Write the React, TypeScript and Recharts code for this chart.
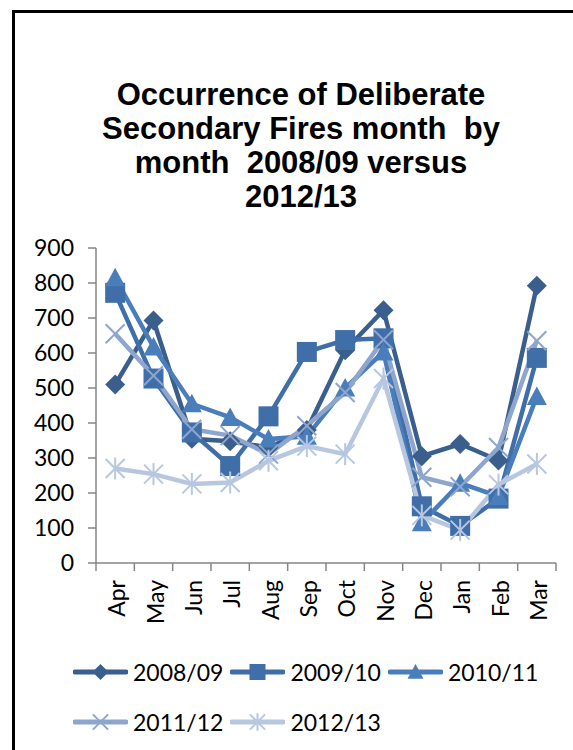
import { LineChart, Line, XAxis, YAxis } from 'recharts'

const MONTHS = ['Apr', 'May', 'Jun', 'Jul', 'Aug', 'Sep', 'Oct', 'Nov', 'Dec', 'Jan', 'Feb', 'Mar']
const Y_TICKS = [0, 100, 200, 300, 400, 500, 600, 700, 800, 900]

const FY_2008_09 = [510, 693, 355, 348, 330, 380, 608, 722, 305, 340, 293, 792]
const FY_2009_10 = [772, 527, 373, 277, 419, 603, 637, 642, 162, 106, 184, 586]
const FY_2010_11 = [815, 617, 455, 416, 354, 362, 500, 603, 115, 228, 190, 476]
const FY_2011_12 = [655, 535, 382, 364, 311, 392, 487, 638, 245, 218, 330, 635]
const FY_2012_13 = [270, 254, 226, 230, 292, 334, 311, 527, 136, 94, 224, 283]

const SERIES = [
  { key: 'fy0809', name: '2008/09', values: FY_2008_09, color: '#3A5F8D', shape: 'diamond' },
  { key: 'fy0910', name: '2009/10', values: FY_2009_10, color: '#406EA8', shape: 'square' },
  { key: 'fy1011', name: '2010/11', values: FY_2010_11, color: '#4A7EBB', shape: 'triangle' },
  { key: 'fy1112', name: '2011/12', values: FY_2011_12, color: '#8EA6CE', shape: 'x' },
  { key: 'fy1213', name: '2012/13', values: FY_2012_13, color: '#B8C7E0', shape: 'star' },
]

const rows = MONTHS.map((month, i) => {
  const row: Record<string, number | string> = { month, x: i + 0.5 }
  SERIES.forEach((s) => { row[s.key] = s.values[i] })
  return row
})

// ticks at category edges (tick marks) and centres (labels)
const X_TICKS = MONTHS.flatMap((_, i) => [i, i + 0.5]).concat([MONTHS.length])

const FONT = 'Lato, "Open Sans", sans-serif'
const AXIS_GREY = '#868686'

function Marker({ shape, cx, cy, s, color }: { shape: string; cx: number; cy: number; s: number; color: string }) {
  if (shape === 'diamond') {
    return <polygon points={`${cx},${cy - s} ${cx + s},${cy} ${cx},${cy + s} ${cx - s},${cy}`} fill={color} />
  }
  if (shape === 'square') {
    return <rect x={cx - s} y={cy - s} width={s * 2} height={s * 2} fill={color} />
  }
  if (shape === 'triangle') {
    return <polygon points={`${cx},${cy - s} ${cx + s},${cy + s * 0.85} ${cx - s},${cy + s * 0.85}`} fill={color} />
  }
  const d = s * 0.95
  return (
    <g stroke={color} strokeWidth={2}>
      <line x1={cx - d} y1={cy - d} x2={cx + d} y2={cy + d} />
      <line x1={cx - d} y1={cy + d} x2={cx + d} y2={cy - d} />
      {shape === 'star' && <line x1={cx} y1={cy - s * 1.1} x2={cx} y2={cy + s * 1.1} />}
    </g>
  )
}

function MonthTick({ x, y, payload }: { x: number; y: number; payload: { value: number } }) {
  const v = payload.value
  if (Number.isInteger(v)) {
    return <line x1={x} y1={y - 17} x2={x} y2={y - 9} stroke={AXIS_GREY} strokeWidth={1.5} />
  }
  const bx = x + 10
  return (
    <text
      x={bx}
      y={y}
      transform={`rotate(-90 ${bx} ${y})`}
      textAnchor="end"
      fontFamily={FONT}
      fontSize={23}
      fill="#000"
    >
      {MONTHS[Math.floor(v)]}
    </text>
  )
}

function LegendBox() {
  return (
    <div
      style={{
        position: 'absolute',
        left: 73,
        top: 647,
        width: 480,
        display: 'flex',
        flexWrap: 'wrap',
        fontFamily: FONT,
        fontSize: 23,
        color: '#000',
      }}
    >
      {SERIES.map((s) => (
        <div key={s.key} style={{ display: 'flex', alignItems: 'center', height: 50, marginRight: 7 }}>
          <svg width={55} height={24} style={{ marginRight: 5 }}>
            <line x1={2} y1={12} x2={53} y2={12} stroke={s.color} strokeWidth={5} strokeLinecap="round" />
            <Marker shape={s.shape} cx={27.5} cy={12} s={8} color={s.color} />
          </svg>
          <span>{s.name}</span>
        </div>
      ))}
    </div>
  )
}

export default function App() {
  return (
    <div style={{ position: 'absolute', left: 0, top: 0, width: 573, height: 750, background: '#fff', overflow: 'hidden' }}>
      <div
        style={{
          position: 'absolute',
          left: 12,
          top: 10,
          width: 700,
          height: 900,
          borderTop: '3px solid #000',
          borderLeft: '3px solid #000',
        }}
      />
      <div
        style={{
          position: 'absolute',
          left: 0,
          top: 78,
          width: 602,
          textAlign: 'center',
          fontFamily: '"Liberation Sans", Arial, sans-serif',
          fontWeight: 'bold',
          fontSize: 31,
          lineHeight: '34px',
          color: '#000',
        }}
      >
        Occurrence of Deliberate
        <br />
        Secondary Fires month&nbsp; by
        <br />
        month&nbsp; 2008/09 versus
        <br />
        2012/13
      </div>
      <div style={{ position: 'absolute', left: 0, top: 0 }}>
        <LineChart width={573} height={750} data={rows} margin={{ top: 248, right: 17, left: 36, bottom: 117 }}>
          <XAxis
            dataKey="x"
            type="number"
            domain={[0, MONTHS.length]}
            ticks={X_TICKS}
            interval={0}
            height={70}
            tickSize={8}
            tickMargin={9}
            tickLine={false}
            axisLine={{ stroke: AXIS_GREY, strokeWidth: 1.5 }}
            tick={MonthTick}
          />
          <YAxis
            domain={[0, 900]}
            ticks={Y_TICKS}
            interval={0}
            width={60}
            tickSize={8}
            tickMargin={14}
            tickLine={{ stroke: AXIS_GREY, strokeWidth: 1.5 }}
            axisLine={{ stroke: AXIS_GREY, strokeWidth: 1.5 }}
            tick={{ fill: '#000', fontSize: 23, fontFamily: FONT }}
          />
          {SERIES.map((s) => (
            <Line
              key={s.key}
              dataKey={s.key}
              name={s.name}
              type="linear"
              stroke={s.color}
              strokeWidth={4.5}
              isAnimationActive={false}
              activeDot={false}
              dot={(p: { cx: number; cy: number; index: number }) => (
                <Marker key={`${s.key}-${p.index}`} shape={s.shape} cx={p.cx} cy={p.cy} s={10} color={s.color} />
              )}
            />
          ))}
        </LineChart>
      </div>
      <LegendBox />
    </div>
  )
}
